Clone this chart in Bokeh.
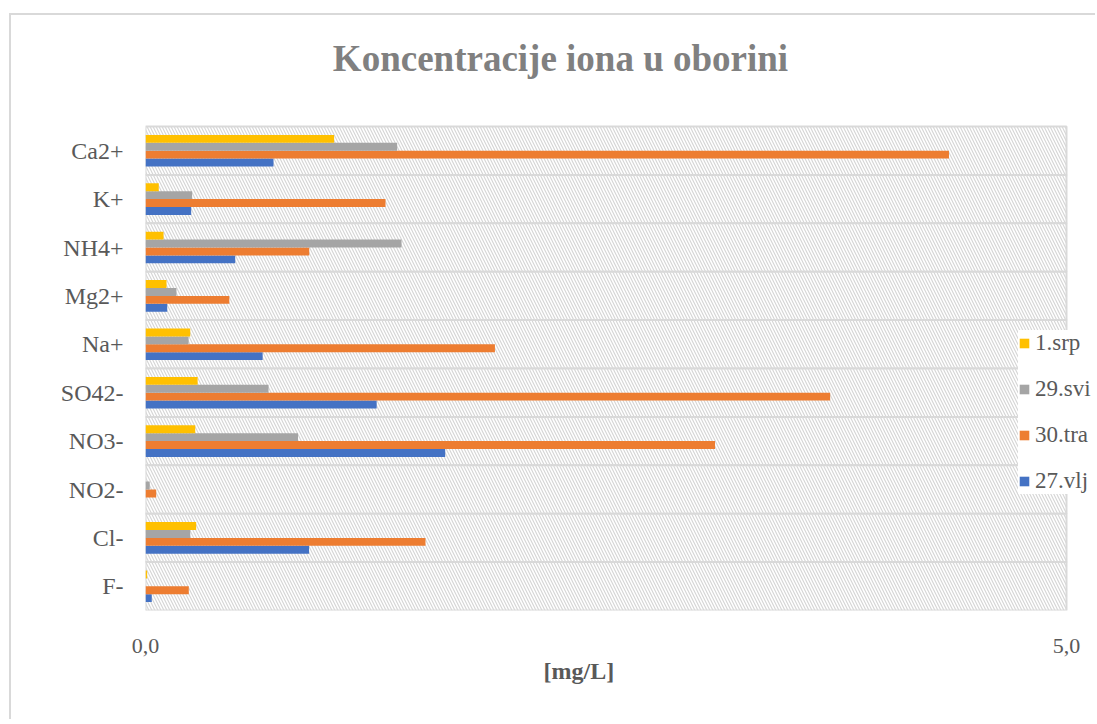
from bokeh.plotting import figure
from bokeh.models import Legend, LegendItem, FixedTicker, Range1d, Title, Label
from bokeh.transform import dodge
from bokeh.embed import file_html
from bokeh.resources import INLINE

ions = ["Ca2+", "K+", "NH4+", "Mg2+", "Na+", "SO42-", "NO3-", "NO2-", "Cl-", "F-"]
s_27vlj = [0.695, 0.248, 0.487, 0.118, 0.636, 1.255, 1.627, 0.0, 0.888, 0.034]
s_30tra = [4.362, 1.303, 0.889, 0.455, 1.897, 3.717, 3.092, 0.058, 1.520, 0.235]
s_29svi = [1.366, 0.253, 1.390, 0.168, 0.234, 0.668, 0.828, 0.023, 0.243, 0.0]
s_1srp = [1.024, 0.072, 0.098, 0.114, 0.243, 0.283, 0.270, 0.0, 0.275, 0.009]
x_ticks = [0, 5]
x_tick_labels = ["0,0", "5,0"]
x_max = 5.0
title_text = "Koncentracije iona u oborini"
x_label = "[mg/L]"

SERIF = "Liberation Serif"
TXT = "#595959"

W, H = 1086, 706
LEFT, BOTTOM = 134, 111
PLOT_W, PLOT_H = 921, 484          # pixel size of the 0..5 x 10-band area
FRAME_W = W - LEFT                 # frame runs to the right edge (room for legend)
FRAME_H = H - BOTTOM               # frame runs to the top edge (room for title)

n = len(ions)
ypos = [n - i - 0.5 for i in range(n)]   # band centres, top to bottom

p = figure(width=W, height=H, output_backend="svg", toolbar_location=None,
           y_range=Range1d(0, n * FRAME_H / PLOT_H),
           x_range=Range1d(0, x_max * FRAME_W / PLOT_W),
           min_border_left=LEFT, min_border_right=0, min_border_top=0, min_border_bottom=BOTTOM,
           margin=(13, 0, 0, 9),
           styles={"border-left": "2px solid #d9d9d9", "border-top": "2px solid #d9d9d9"})

p.outline_line_color = None
p.xgrid.visible = False
p.ygrid.visible = False

# hatched bands
p.hbar(y=ypos, left=0, right=x_max, height=1, fill_color="white",
       line_color="#d9d9d9", line_width=2,
       hatch_pattern="\\", hatch_color="#d6d6d6", hatch_scale=6, hatch_weight=1.2)

h = 0.163
series = [("27.vlj", s_27vlj, "#4472C4", -0.245),
          ("30.tra", s_30tra, "#ED7D31", -0.082),
          ("29.svi", s_29svi, "#A5A5A5", 0.082),
          ("1.srp", s_1srp, "#FFC000", 0.245)]
renderers = {}
for name, vals, col, off in series:
    src = dict(y=ypos, v=vals)
    r = p.hbar(y=dodge("y", off), right="v", left=0, height=h,
               source=src, fill_color=col, line_color=None)
    renderers[name] = r

legend = Legend(items=[LegendItem(label=nm, renderers=[renderers[nm]]) for nm in ["1.srp", "29.svi", "30.tra", "27.vlj"]],
                location=(873, 116), label_text_font=SERIF, label_text_font_size="23px",
                label_text_color=TXT, glyph_width=12, glyph_height=12, label_height=20,
                spacing=20, padding=12, margin=0, label_standoff=5,
                border_line_color=None, background_fill_color="white", background_fill_alpha=1)
p.add_layout(legend, "center")

p.xaxis.ticker = FixedTicker(ticks=x_ticks)
p.xaxis.major_label_overrides = {t: l for t, l in zip(x_ticks, x_tick_labels)}
p.xaxis.axis_line_color = None
p.xaxis.major_tick_line_color = None
p.xaxis.minor_tick_line_color = None
p.xaxis.major_label_text_font = SERIF
p.xaxis.major_label_text_font_size = "22px"
p.xaxis.major_label_text_color = TXT
p.xaxis.major_label_standoff = 22

xlabel = Title(text=x_label, align="left", offset=398, standoff=0,
               text_font=SERIF, text_font_size="24px", text_font_style="bold", text_color=TXT)
p.add_layout(xlabel, "below")

p.yaxis.ticker = FixedTicker(ticks=ypos)
p.yaxis.major_label_overrides = {y: lab for y, lab in zip(ypos, ions)}
p.yaxis.axis_line_color = None
p.yaxis.major_tick_line_color = None
p.yaxis.minor_tick_line_color = None
p.yaxis.major_label_text_font = SERIF
p.yaxis.major_label_text_font_size = "24px"
p.yaxis.major_label_text_color = TXT
p.yaxis.major_label_standoff = 16

title = Label(text=title_text, x=415, y=552, x_units="screen", y_units="screen",
              text_align="center", text_baseline="middle",
              text_font=SERIF, text_font_size="37px", text_font_style="bold", text_color="#808080")
p.add_layout(title, "center")

open("out.html", "w").write(file_html(p, INLINE))
